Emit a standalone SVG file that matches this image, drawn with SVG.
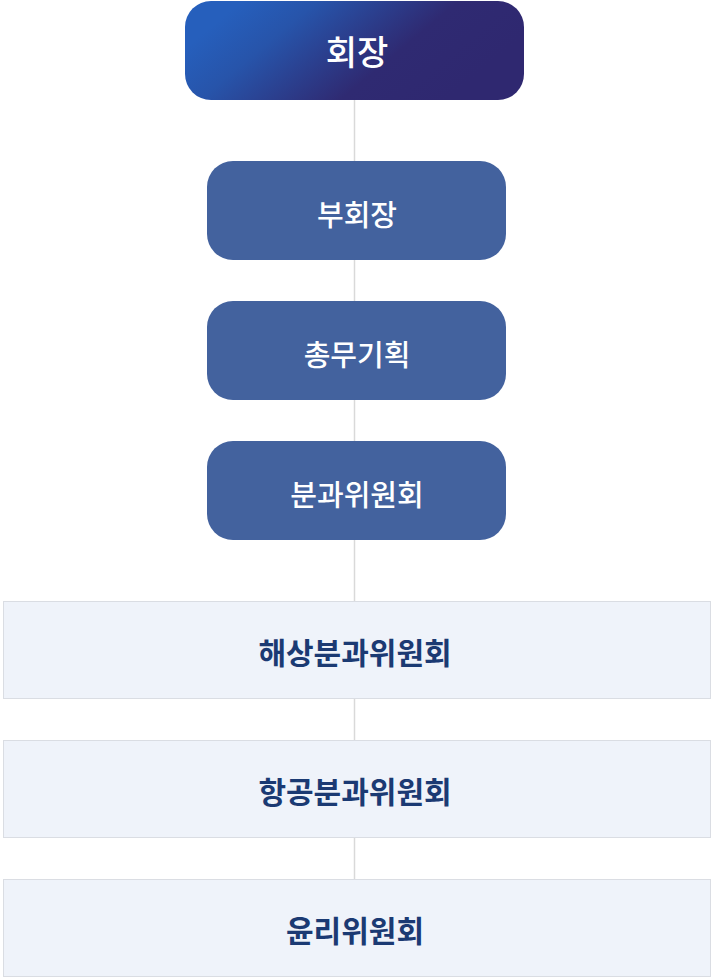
<svg xmlns="http://www.w3.org/2000/svg" width="714" height="979" viewBox="0 0 714 979">
<defs>
<linearGradient id="g" x1="0" y1="0" x2="1" y2="0.35" gradientUnits="objectBoundingBox">
<stop offset="0.15" stop-color="#265FBC"/>
<stop offset="0.35" stop-color="#2754AA"/>
<stop offset="0.72" stop-color="#2F2A72"/>
<stop offset="1" stop-color="#2F2870"/>
</linearGradient>
<style>
.t{font-family:"Noto Sans CJK KR","Noto Sans",sans-serif;text-anchor:middle;dominant-baseline:central}
.w{fill:#ffffff;font-weight:500}
.mid{fill:#43629E}
.box{fill:#EFF3FA;stroke:#DADDE3;stroke-width:1}
.d{fill:#1B3A73;font-weight:700;font-size:30px}
</style>
</defs>
<rect width="714" height="979" fill="#ffffff"/>
<g id="connectors">
<line x1="354.5" y1="100" x2="354.5" y2="879" stroke="#D9D9D9" stroke-width="1.5"/>
</g>
<g id="n1">
<rect x="185" y="1" width="339" height="99" rx="26" fill="url(#g)"/>
<text class="t w" x="357" y="50" font-size="34">회장</text>
</g>
<g id="n2">
<rect class="mid" x="207" y="161" width="299" height="99" rx="26"/>
<text class="t w" x="357" y="212.5" font-size="29">부회장</text>
</g>
<g id="n3">
<rect class="mid" x="207" y="301" width="299" height="99" rx="26"/>
<text class="t w" x="357" y="352.5" font-size="29">총무기획</text>
</g>
<g id="n4">
<rect class="mid" x="207" y="441" width="299" height="99" rx="26"/>
<text class="t w" x="357" y="492.5" font-size="29">분과위원회</text>
</g>
<g id="n5">
<rect class="box" x="3.5" y="601.5" width="707" height="97"/>
<text class="t d" x="355" y="651">해상분과위원회</text>
</g>
<g id="n6">
<rect class="box" x="3.5" y="740.5" width="707" height="97"/>
<text class="t d" x="355" y="790">항공분과위원회</text>
</g>
<g id="n7">
<rect class="box" x="3.5" y="879.5" width="707" height="97"/>
<text class="t d" x="355" y="929">윤리위원회</text>
</g>
</svg>
